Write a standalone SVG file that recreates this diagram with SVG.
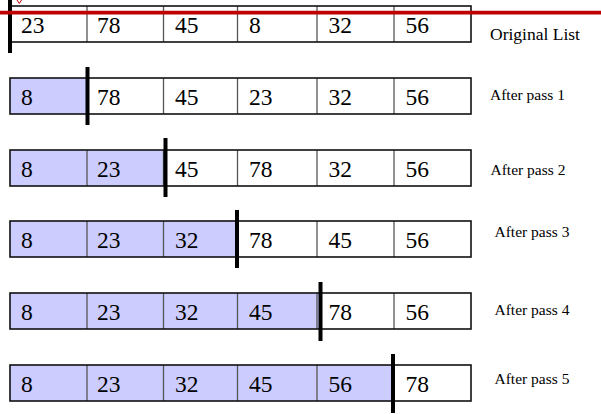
<svg xmlns="http://www.w3.org/2000/svg" width="601" height="414" viewBox="0 0 601 414">
<style>
.bg{fill:#fff}
.box{fill:none;stroke:#111;stroke-width:1.6}
.div{stroke:#555;stroke-width:1.3}
.sh{fill:#CCCCFF}
.num{font-family:"Liberation Serif","Times New Roman",serif;font-size:23.5px;fill:#000}
.lbl{font-family:"Liberation Serif","Times New Roman",serif;font-size:15.5px;fill:#000}
.bar{stroke:#000;stroke-width:4}
</style>
<rect width="601" height="414" fill="#fff"/>
<defs>
<g id="cells">
<line class="div" x1="87" y1="0" x2="87" y2="36"/>
<line class="div" x1="163.5" y1="0" x2="163.5" y2="36"/>
<line class="div" x1="237.5" y1="0" x2="237.5" y2="36"/>
<line class="div" x1="317" y1="0" x2="317" y2="36"/>
<line class="div" x1="394" y1="0" x2="394" y2="36"/>
<rect class="box" x="10" y="0" width="461" height="36"/>
</g>
</defs>
<g id="row0">
<use href="#cells" transform="translate(0,6)"/>
<text class="num" y="33"><tspan x="21">23</tspan><tspan x="97">78</tspan><tspan x="175">45</tspan><tspan x="249">8</tspan><tspan x="328.5">32</tspan><tspan x="405.5">56</tspan></text>
<text x="490" y="40" font-family="Liberation Serif, Times New Roman, serif" font-size="17.5">Original List</text>
</g>
<g id="row1">
<rect class="sh" x="10" y="78" width="77" height="36"/>
<use href="#cells" transform="translate(0,78)"/>
<text class="num" y="105"><tspan x="21">8</tspan><tspan x="97">78</tspan><tspan x="175">45</tspan><tspan x="249">23</tspan><tspan x="328.5">32</tspan><tspan x="405.5">56</tspan></text>
<text class="lbl" x="490" y="100">After pass 1</text>
</g>
<g id="row2">
<rect class="sh" x="10" y="150" width="155" height="36"/>
<use href="#cells" transform="translate(0,150)"/>
<text class="num" y="177"><tspan x="21">8</tspan><tspan x="97">23</tspan><tspan x="175">45</tspan><tspan x="249">78</tspan><tspan x="328.5">32</tspan><tspan x="405.5">56</tspan></text>
<text class="lbl" x="490.5" y="175">After pass 2</text>
</g>
<g id="row3">
<rect class="sh" x="10" y="221" width="227" height="36"/>
<use href="#cells" transform="translate(0,221)"/>
<text class="num" y="248"><tspan x="21">8</tspan><tspan x="97">23</tspan><tspan x="175">32</tspan><tspan x="249">78</tspan><tspan x="328.5">45</tspan><tspan x="405.5">56</tspan></text>
<text class="lbl" x="494.5" y="237">After pass 3</text>
</g>
<g id="row4">
<rect class="sh" x="10" y="293" width="310" height="36"/>
<use href="#cells" transform="translate(0,293)"/>
<text class="num" y="320"><tspan x="21">8</tspan><tspan x="97">23</tspan><tspan x="175">32</tspan><tspan x="249">45</tspan><tspan x="328.5">78</tspan><tspan x="405.5">56</tspan></text>
<text class="lbl" x="494.5" y="315">After pass 4</text>
</g>
<g id="row5">
<rect class="sh" x="10" y="365" width="383" height="36"/>
<use href="#cells" transform="translate(0,365)"/>
<text class="num" y="392"><tspan x="21">8</tspan><tspan x="97">23</tspan><tspan x="175">32</tspan><tspan x="249">45</tspan><tspan x="328.5">56</tspan><tspan x="405.5">78</tspan></text>
<text class="lbl" x="494.5" y="384">After pass 5</text>
</g>
<g id="connectors">
<line class="bar" x1="10" y1="0" x2="10" y2="53"/>
<line class="bar" x1="87.5" y1="67" x2="87.5" y2="125"/>
<line class="bar" x1="165.5" y1="138" x2="165.5" y2="197"/>
<line class="bar" x1="237" y1="210" x2="237" y2="268"/>
<line class="bar" x1="320.5" y1="282" x2="320.5" y2="341"/>
<line class="bar" x1="393" y1="354" x2="393" y2="413"/>
<line x1="0" y1="12.6" x2="601" y2="12.6" stroke="#C00000" stroke-width="3.6"/>
<polyline points="17,0 19.3,3.5 21.5,0" fill="none" stroke="#C00000" stroke-width="1"/>
</g>
</svg>
